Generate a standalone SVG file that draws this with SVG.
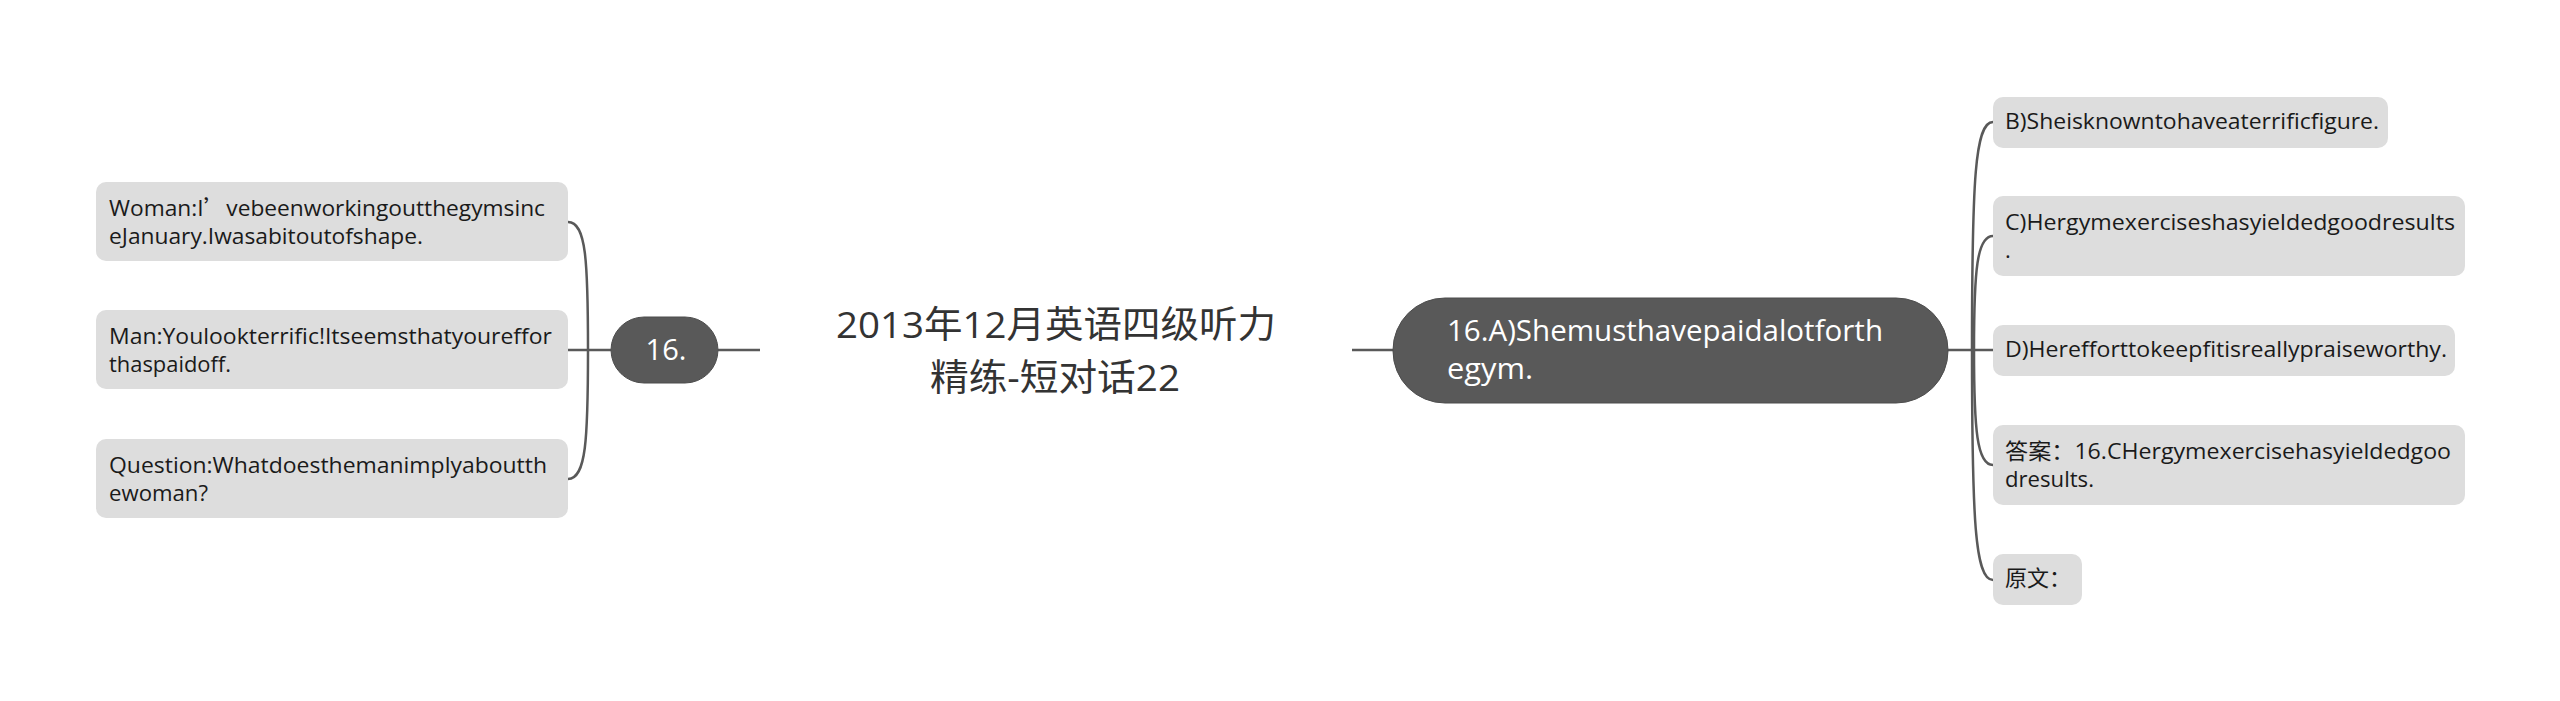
<svg xmlns="http://www.w3.org/2000/svg" width="2560" height="701" viewBox="0 0 2560 701">
<style>
.bg{fill:#ffffff}
.leaf rect{fill:#dddddd}
.leaf text{font-family:"Open Sans","Noto Sans CJK SC",sans-serif;font-size:22px;fill:#1a1a1a}
.cjk{font-family:"Noto Sans CJK SC",sans-serif}
.dark rect{fill:#595959;stroke:#4d4d4d;stroke-width:1}
.dark text{font-family:"Open Sans","Noto Sans CJK SC",sans-serif;fill:#ffffff}
.root text{font-family:"Open Sans","Noto Sans CJK SC",sans-serif;font-size:37px;fill:#333333}
.conn path{fill:none;stroke:#595959;stroke-width:2.5}
</style>
<rect class="bg" x="0" y="0" width="2560" height="701"/>
<g class="conn" id="connectors">
<path d="M568,350 L611,350"/>
<path d="M718,350 L760,350"/>
<path d="M588,350 C588,260 586,222 568,222"/>
<path d="M588,350 C588,440 586,479 568,479"/>
<path d="M1352,350 L1393,350"/>
<path d="M1948,350 L1993,350"/>
<path d="M1972,350 C1972,180 1975,122 1993,122"/>
<path d="M1974,350 C1974,270 1977,236 1993,236"/>
<path d="M1974,350 C1974,430 1977,465 1993,465"/>
<path d="M1972,350 C1972,520 1975,580 1993,580"/>
</g>
<g class="root" id="root">
<text x="836" y="338" textLength="440" lengthAdjust="spacingAndGlyphs">2013年12月英语四级听力</text>
<text x="930" y="391" textLength="250" lengthAdjust="spacingAndGlyphs">精练-短对话22</text>
</g>
<g class="dark" id="n16">
<rect x="611" y="317" width="107" height="66" rx="33"/>
<text x="666" y="360" text-anchor="middle" font-size="29">16.</text>
</g>
<g class="dark" id="n16a">
<rect x="1393" y="298" width="555" height="105" rx="52"/>
<text x="1447" y="341" font-size="29" textLength="436" lengthAdjust="spacingAndGlyphs">16.A)Shemusthavepaidalotforth</text>
<text x="1447" y="379" font-size="29" textLength="86" lengthAdjust="spacingAndGlyphs">egym.</text>
</g>
<g class="leaf" id="woman">
<rect x="96" y="182" width="472" height="79" rx="10"/>
<text x="109" y="216" textLength="436" lengthAdjust="spacingAndGlyphs">Woman:I<tspan class="cjk">’</tspan>vebeenworkingoutthegymsinc</text>
<text x="109" y="244" textLength="314" lengthAdjust="spacingAndGlyphs">eJanuary.Iwasabitoutofshape.</text>
</g>
<g class="leaf" id="man">
<rect x="96" y="310" width="472" height="79" rx="10"/>
<text x="109" y="344" textLength="443" lengthAdjust="spacingAndGlyphs">Man:Youlookterrific!Itseemsthatyoureffor</text>
<text x="109" y="372" textLength="122" lengthAdjust="spacingAndGlyphs">thaspaidoff.</text>
</g>
<g class="leaf" id="question">
<rect x="96" y="439" width="472" height="79" rx="10"/>
<text x="109" y="473" textLength="438" lengthAdjust="spacingAndGlyphs">Question:Whatdoesthemanimplyaboutth</text>
<text x="109" y="501" textLength="99" lengthAdjust="spacingAndGlyphs">ewoman?</text>
</g>
<g class="leaf" id="optB">
<rect x="1993" y="97" width="395" height="51" rx="10"/>
<text x="2005" y="129" textLength="374" lengthAdjust="spacingAndGlyphs">B)Sheisknowntohaveaterrificfigure.</text>
</g>
<g class="leaf" id="optC">
<rect x="1993" y="196" width="472" height="80" rx="10"/>
<text x="2005" y="230" textLength="450" lengthAdjust="spacingAndGlyphs">C)Hergymexerciseshasyieldedgoodresults</text>
<text x="2005" y="258">.</text>
</g>
<g class="leaf" id="optD">
<rect x="1993" y="325" width="462" height="51" rx="10"/>
<text x="2005" y="357" textLength="442" lengthAdjust="spacingAndGlyphs">D)Herefforttokeepfitisreallypraiseworthy.</text>
</g>
<g class="leaf" id="answer">
<rect x="1993" y="425" width="472" height="80" rx="10"/>
<text x="2005" y="459" textLength="446" lengthAdjust="spacingAndGlyphs">答案：16.CHergymexercisehasyieldedgoo</text>
<text x="2005" y="487" textLength="89" lengthAdjust="spacingAndGlyphs">dresults.</text>
</g>
<g class="leaf" id="yuanwen">
<rect x="1993" y="554" width="89" height="51" rx="10"/>
<text x="2005" y="586">原文：</text>
</g>
</svg>
